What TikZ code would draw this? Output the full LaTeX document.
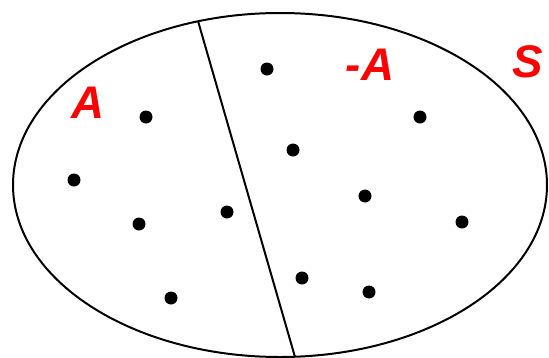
\documentclass[tikz,border=0pt]{standalone}
\usepackage{fontspec}
\setmainfont{Liberation Sans}
\usetikzlibrary{positioning}
\definecolor{LabelRed}{RGB}{255, 0, 0}
\tikzset{
  setlabel/.style={text=LabelRed, font=\fontsize{39}{39}\selectfont\bfseries\itshape, inner sep=0pt}
}

\begin{document}
\begin{tikzpicture}[x=0.03cm, y=-0.03cm, line width=1.7pt]
  \useasboundingbox (0, 0) rectangle (549, 358);

  % Sample space
  \draw (280, 185) ellipse (267 and 172);

  % Dividing line
  \coordinate (cuttop) at (198, 21);
  \coordinate (cutbot) at (295, 357);
  \draw (cuttop) -- (cutbot);

  % Outcomes
  \foreach \px/\py in {146/117, 74/180, 139/224, 227/212, 171/298,
                       267/69, 420/117, 293/150, 365/196, 462/222, 302/278, 369/292} {
    \fill (\px, \py) circle (6.5);
  }

  % Labels
  \node[setlabel] (seta) at (88, 103) {A};
  \node[setlabel] (setnota) at (370, 65) {-A};
  \node[setlabel] (sets) at (528, 62) {S};
\end{tikzpicture}
\end{document}
